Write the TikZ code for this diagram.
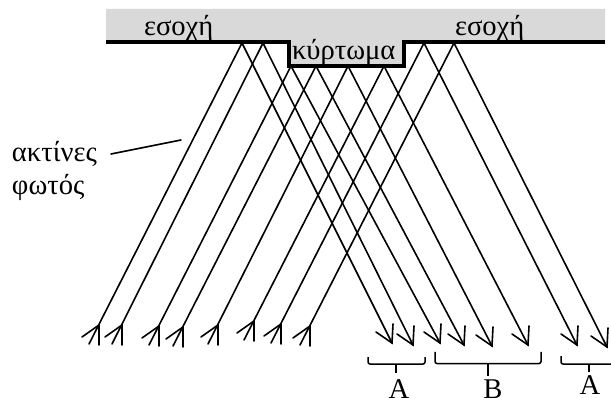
\documentclass[tikz,border=0pt]{standalone}
\usepackage{fontspec}
\setmainfont{Liberation Serif}
\tikzset{
  x=1pt,y=-1pt,
  ray/.style={draw=black,line width=1.6pt,line cap=round,line join=miter},
  surface/.style={draw=black,line width=4pt,line join=miter},
  brace/.style={draw=black,line width=1.5pt,rounded corners=2pt},
  stem/.style={draw=black,line width=2pt},
  lbl/.style={inner sep=0pt,outer sep=0pt,anchor=base west,font=\fontsize{28.6}{28.6}\selectfont},
  lblc/.style={inner sep=0pt,outer sep=0pt,anchor=base,font=\fontsize{28.6}{28.6}\selectfont}
}
\begin{document}
\begin{tikzpicture}
\useasboundingbox (0,0) rectangle (611,398);
\clip (0,0) rectangle (611,398);
\fill[fill=black!15] (106,9) -- (605,9) -- (605,42.5) -- (404,42.5) -- (404,66) -- (289,66) -- (289,42.5) -- (106,42.5) -- cycle;
\draw[surface] (106,42.5) -- (289,42.5) -- (289,66) -- (404,66) -- (404,42.5) -- (605,42.5);
\foreach \bx/\by/\tx/\ty/\ex/\ey in {
  99/325/242/43/392/343,
  122/325/263/43/413/345,
  159/326/291/66/440/343,
  183/327/316/66/464/345,
  218/325/348/66/492/346,
  254/321/384/66/528/345,
  281/324/424/43/577/345,
  310/326/454/43/607/347}{
  \draw[ray] (\bx-10,\by+19) -- (\tx,\ty) -- (\ex,\ey);
  \draw[ray] (\bx-17,\by+12) -- (\bx,\by) -- (\bx,\by+20);
  \draw[ray] (\ex-16,\ey-11) -- (\ex,\ey) -- (\ex+1,\ey-19);
}
\coordinate (leaderA) at (181,140);
\node[lbl] (es1) at (144,36) {εσοχή};
\node[lbl] (es2) at (455,36) {εσοχή};
\node[lbl] (kyrt) at (292,60) {κύρτωμα};
\node[lbl] (akt) at (12,162) {ακτίνες};
\node[lbl] (fot) at (12,195) {φωτός};
\coordinate (leaderB) at (111,154);
\draw[ray] (leaderB) -- (leaderA);
\draw[brace] (368,357) -- (368,364) -- (425,364) -- (425,357);
\draw[stem] (396,364) -- (396,373);
\draw[brace] (435,352) -- (435,363.5) -- (541,363.5) -- (541,352);
\draw[stem] (488,363.5) -- (488,376);
\draw[brace] (561,356) -- (561,364) -- (620,364);
\draw[stem] (589,364) -- (589,372);
\node[lblc] (a1) at (399,398) {A};
\node[lblc] (b1) at (493,398) {B};
\node[lblc] (a2) at (590,394) {A};
\end{tikzpicture}
\end{document}
